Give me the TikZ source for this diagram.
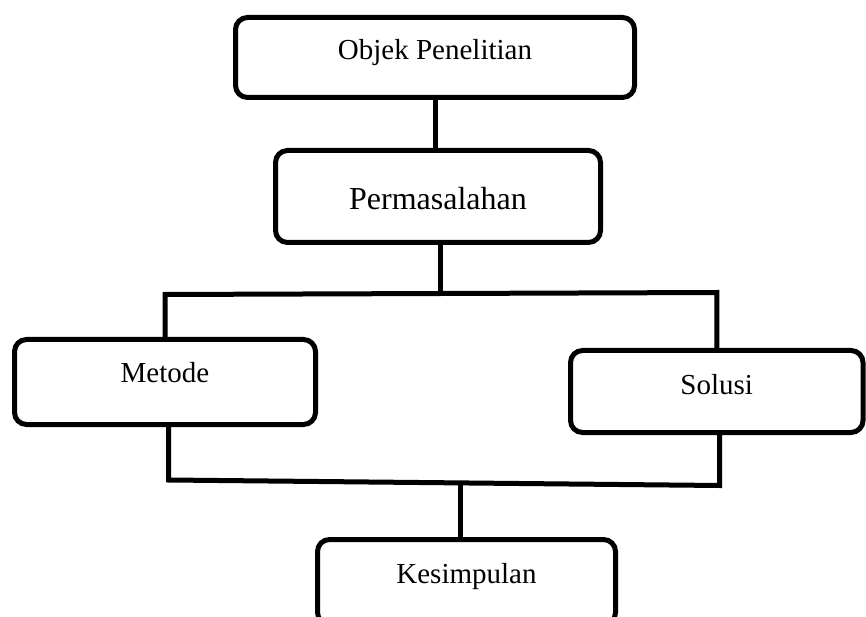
\documentclass[tikz,border=0pt]{standalone}
\usepackage{fontspec}
\setmainfont{Liberation Serif}
\begin{document}
\begin{tikzpicture}[x=1pt,y=1pt,
  box/.style={draw=black, rounded corners=12pt, line width=5pt, inner sep=0pt,
    font=\fontsize{29}{34}\selectfont, align=center},
  conn/.style={draw=black, line width=5pt, line join=miter}]
\useasboundingbox (0,0) rectangle (866,616);
\node[box, minimum width=399pt, minimum height=80pt, text height=20pt, text depth=15pt] (obj) at (435,558.5) {Objek Penelitian};
\node[box, font=\fontsize{32}{38}\selectfont, minimum width=325pt, minimum height=92pt, text height=27pt, text depth=0pt] (perm) at (438,419.5) {Permasalahan};
\node[box, minimum width=301pt, minimum height=85pt, text height=20pt, text depth=20pt] (met) at (165,234) {Metode};
\node[box, minimum width=292.5pt, minimum height=82pt, text height=20pt, text depth=15pt] (sol) at (716.75,224.5) {Solusi};
\node[box, minimum width=298pt, minimum height=85pt, text height=20pt, text depth=18pt] (kes) at (466.5,34) {Kesimpulan};
\coordinate (tl) at (165,321.5);
\coordinate (tr) at (716.75,323.5);
\coordinate (bl) at (168.5,136);
\coordinate (br) at (719.5,130.5);
\coordinate (kj) at (460,133);
\coordinate (pj) at (440,322.5);
\draw[conn] (obj.south) -- (obj.south |- perm.north);
\draw[conn] (pj |- perm.south) -- (pj);
\draw[conn] (met.north) -- (tl) -- (tr) -- (sol.north);
\draw[conn] (bl |- met.south) -- (bl) -- (br) -- (br |- sol.south);
\draw[conn] (kj) -- (kj |- kes.north);
\end{tikzpicture}
\end{document}
